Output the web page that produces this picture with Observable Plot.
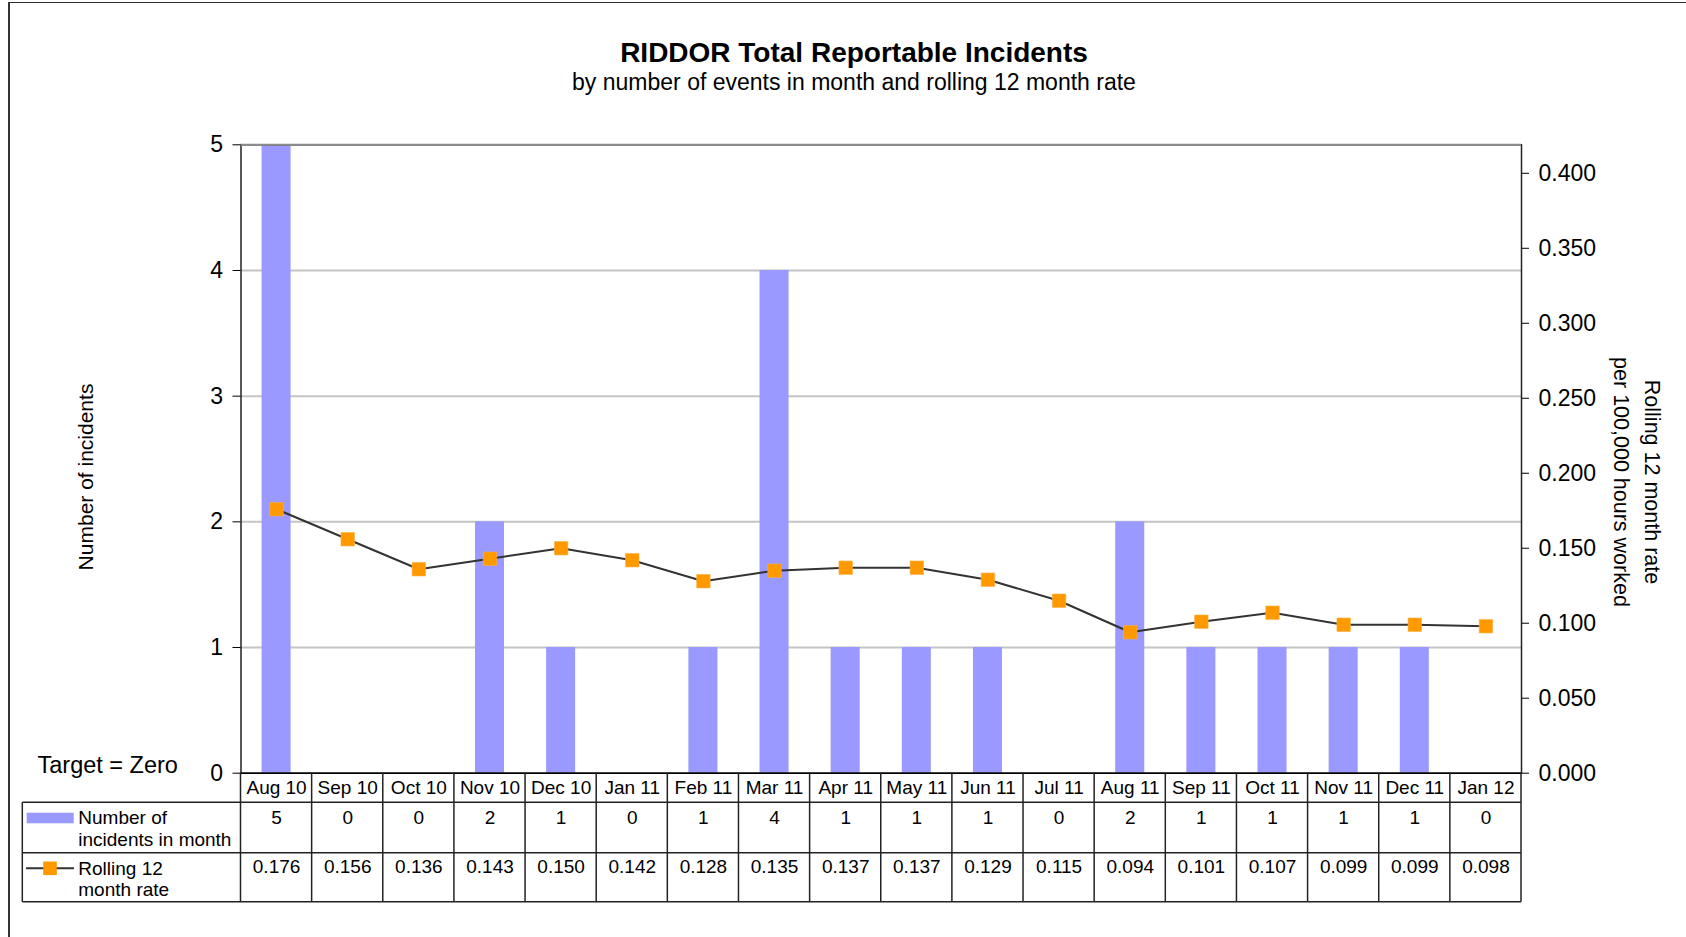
<!DOCTYPE html>
<html>
<head>
<meta charset="utf-8">
<script src="https://cdn.jsdelivr.net/npm/d3@7"></script>
<script src="https://cdn.jsdelivr.net/npm/@observablehq/plot@0.6"></script>
<style>
  body { margin: 0; background: #fff; font-family: "Liberation Sans", Arial, sans-serif; color: #000; }
  #page { position: relative; width: 1686px; height: 937px; overflow: hidden; background: #fff; }
  #border { position: absolute; left: 7.5px; top: 2px; width: 1800px; height: 1000px; border-left: 2px solid #333; border-top: 1.5px solid #333; }
  #title { position: absolute; left: 0; top: 39px; width: 1686px; padding-left: 22px; box-sizing: border-box; text-align: center; font-weight: bold; font-size: 28px; line-height: 28px; white-space: nowrap; }
  #subtitle { position: absolute; left: 0; top: 71px; width: 1686px; padding-left: 22px; box-sizing: border-box; text-align: center; font-size: 23px; line-height: 23px; white-space: nowrap; }
  #chart { position: absolute; left: 0; top: 100px; }
</style>
</head>
<body>
<div id="page">
  <div id="border"></div>
  <div id="title">RIDDOR Total Reportable Incidents</div>
  <div id="subtitle">by number of events in month and rolling 12 month rate</div>
  <div id="chart"></div>
</div>
<script>
// ---- data ----
const months = ["Aug 10", "Sep 10", "Oct 10", "Nov 10", "Dec 10", "Jan 11", "Feb 11", "Mar 11", "Apr 11",
                "May 11", "Jun 11", "Jul 11", "Aug 11", "Sep 11", "Oct 11", "Nov 11", "Dec 11", "Jan 12"];
const incidents = [5, 0, 0, 2, 1, 0, 1, 4, 1, 1, 1, 0, 2, 1, 1, 1, 1, 0];
const rollingRate = [0.176, 0.156, 0.136, 0.143, 0.150, 0.142, 0.128, 0.135, 0.137,
                     0.137, 0.129, 0.115, 0.094, 0.101, 0.107, 0.099, 0.099, 0.098];
const countTicks = [0, 1, 2, 3, 4, 5];
const rateTicks = [0, 0.05, 0.10, 0.15, 0.20, 0.25, 0.30, 0.35, 0.40];
const countMax = 5;
const rateMax = 0.419;
const seriesNames = ["Number of|incidents in month", "Rolling 12|month rate"];

// ---- styles ----
const barColor = "#9999ff";
const lineColor = "#333333";
const markerColor = "#ff9900";
const font = "'Liberation Sans', Arial, sans-serif";

const K = countMax / rateMax; // map rate onto count scale for the secondary axis
const data = months.map((m, i) => ({month: m, count: incidents[i], rate: rollingRate[i]}));

const W = 1686, H = 837;
const mT = 44.3, mB = 164.3, mL = 240.5, mR = 165;

const plot = Plot.plot({
  width: W, height: H,
  marginTop: mT, marginBottom: mB, marginLeft: mL, marginRight: mR,
  style: {fontFamily: font, color: "#000", background: "transparent", overflow: "visible"},
  x: {type: "band", domain: months, paddingInner: 0.592, paddingOuter: 0.296, round: false, label: null},
  y: {domain: [0, countMax], label: null},
  marks: [
    Plot.gridY(countTicks.filter(t => t > 0 && t < countMax), {stroke: "#c4c4c4", strokeOpacity: 1, strokeWidth: 2}),
    Plot.barY(data, {x: "month", y: "count", fill: barColor}),
    Plot.frame({stroke: "#222", strokeWidth: 1.5}),
    Plot.ruleY([countMax], {stroke: "#8c8c8c", strokeWidth: 2}),
    Plot.ruleY([0], {stroke: "#000", strokeWidth: 1.5}),
    Plot.line(data, {x: "month", y: d => d.rate * K, stroke: lineColor, strokeWidth: 2}),
    Plot.dot(data, {x: "month", y: d => d.rate * K, symbol: "square", r: 7.6, fill: markerColor, stroke: "#ffb040", strokeWidth: 0.6}),
    Plot.axisY(countTicks, {anchor: "left", tickSize: 8, tickPadding: 10, fontSize: 23, label: null,
      tickFormat: d3.format("d")}),
    Plot.axisY(rateTicks.map(r => r * K), {anchor: "right", tickSize: 7, tickPadding: 10, fontSize: 23, label: null,
      tickFormat: d => d3.format(".3f")(d / K)}),
    Plot.axisX({tickSize: 0, tickPadding: 7, fontSize: 19, label: null}),
    Plot.text(data, {x: "month", text: d => String(d.count), frameAnchor: "bottom", dy: 50.5, fontSize: 19}),
    Plot.text(data, {x: "month", text: d => d3.format(".3f")(d.rate), frameAnchor: "bottom", dy: 99.5, fontSize: 19})
  ]
});
document.getElementById("chart").appendChild(plot);

// ---- data table grid, legend keys and axis titles ----
const svg = d3.select(plot);
const xs = plot.scale("x");
const step = xs.step;
const x0 = xs.range[0], x1 = xs.range[1];
const yBase = H - mB;
const rowCat = yBase + 29.6, row1 = yBase + 80, row2 = yBase + 129;
const tableLeft = 22.3;

const g = svg.append("g").attr("stroke", "#222").attr("stroke-width", 1.5).attr("fill", "none");
[rowCat, row1, row2].forEach(y => g.append("line").attr("x1", tableLeft).attr("x2", x1).attr("y1", y).attr("y2", y));
g.append("line").attr("x1", tableLeft).attr("x2", tableLeft).attr("y1", rowCat).attr("y2", row2);
d3.range(months.length + 1).forEach(i => {
  const x = x0 + i * step;
  g.append("line").attr("x1", x).attr("x2", x).attr("y1", yBase).attr("y2", row2);
});

const t = svg.append("g").attr("font-family", font).attr("fill", "#000").attr("text-anchor", "start");
// legend keys
svg.append("rect").attr("x", 26.7).attr("y", rowCat + 10.4).attr("width", 47).attr("height", 10.6).attr("fill", barColor);
svg.append("line").attr("x1", 26).attr("x2", 74).attr("y1", row1 + 15.6).attr("y2", row1 + 15.6).attr("stroke", lineColor).attr("stroke-width", 2);
svg.append("rect").attr("x", 43.2).attr("y", row1 + 15.6 - 6.8).attr("width", 13.6).attr("height", 13.6).attr("fill", markerColor);
seriesNames.forEach((name, i) => {
  const [a, b] = name.split("|");
  const top = i === 0 ? rowCat : row1;
  t.append("text").attr("x", 78.3).attr("y", top + 22).attr("font-size", 19).text(a);
  t.append("text").attr("x", 78.3).attr("y", top + 43.7).attr("font-size", 19).text(b);
});
// target note
t.append("text").attr("x", 37.5).attr("y", yBase).attr("font-size", 23.5).text("Target = Zero");
// axis titles
t.append("text").attr("transform", `translate(85,377) rotate(-90)`).attr("text-anchor", "middle")
  .attr("dominant-baseline", "central").attr("font-size", 21).text("Number of incidents");
t.append("text").attr("transform", `translate(1652,382) rotate(90)`).attr("text-anchor", "middle")
  .attr("dominant-baseline", "central").attr("font-size", 21.5).text("Rolling 12 month rate");
t.append("text").attr("transform", `translate(1621,382) rotate(90)`).attr("text-anchor", "middle")
  .attr("dominant-baseline", "central").attr("font-size", 21.5).text("per 100,000 hours worked");
</script>
</body>
</html>
